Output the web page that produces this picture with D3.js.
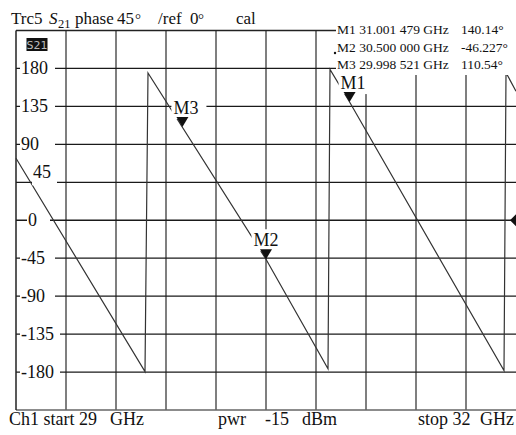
<!DOCTYPE html>
<html>
<head>
<meta charset="utf-8">
<script src="https://cdn.jsdelivr.net/npm/d3@7"></script>
<style>
  body { margin: 0; background: #fff; }
  svg { display: block; }
  text { font-family: "Liberation Serif", "Times New Roman", serif; fill: #111; white-space: pre; }
</style>
</head>
<body>
<svg id="chart" width="516" height="435"></svg>
<script>
// Sweep and grid
const freqGrid = [29.3, 29.6, 29.9, 30.2, 30.5, 30.8, 31.1, 31.4, 31.7];
const phaseTicks = [180, 135, 90, 45, 0, -45, -90, -135, -180];
const tickLabels = ["180", "135", "90", "45", "0", "-45", "-90", "-135", "-180"];

// S21 phase trace vertices (GHz, degrees), wrapping at ±180
const traceFreq  = [29.000, 29.774, 29.792, 30.500, 30.872, 30.884, 31.001479, 31.928, 31.940, 32.000];
const tracePhase = [73.5, -179.5, 174.7, -46.227, -176.0, 178.8, 140.14, -178.3, 175.0, 153.0];

// Markers
const markerNames = ["M1", "M2", "M3"];
const markerFreq = [31.001479, 30.500000, 29.998521];
const markerPhase = [140.14, -46.227, 110.54];
const markerFreqText = ["31.001 479", "30.500 000", "29.998 521"];
const markerPhaseText = ["140.14°", "-46.227°", "110.54°"];

const svg = d3.select("#chart");
const x = d3.scaleLinear().domain([29, 32]).range([16, 516]);
const y = d3.scaleLinear().domain([-225, 225]).range([410, 30.5]);

// grid
const g = svg.append("g");
g.selectAll("line.v").data(freqGrid).join("line")
  .attr("x1", d => x(d)).attr("x2", d => x(d))
  .attr("y1", y(225)).attr("y2", y(-225))
  .attr("stroke", "#555").attr("stroke-width", 1.5);
g.selectAll("line.h").data(phaseTicks).join("line")
  .attr("x1", x(29)).attr("x2", x(32))
  .attr("y1", d => y(d)).attr("y2", d => y(d))
  .attr("stroke", "#1a1a1a").attr("stroke-width", 1.3);
// frame
g.append("line").attr("x1", x(29)).attr("x2", x(32)).attr("y1", y(225)).attr("y2", y(225))
  .attr("stroke", "#222").attr("stroke-width", 1.3);
g.append("line").attr("x1", x(29)).attr("x2", x(32)).attr("y1", y(-225)).attr("y2", y(-225))
  .attr("stroke", "#666").attr("stroke-width", 1.5);
g.append("line").attr("x1", x(29)).attr("x2", x(29)).attr("y1", y(225)).attr("y2", y(-225))
  .attr("stroke", "#222").attr("stroke-width", 1.5);

// trace
const pts = traceFreq.map((f, i) => [f, tracePhase[i]]);
svg.append("path").datum(pts)
  .attr("d", d3.line().x(d => x(d[0])).y(d => y(d[1])))
  .attr("fill", "none").attr("stroke", "#333").attr("stroke-width", 1.2);

// reference level arrow on the right edge
svg.append("path")
  .attr("d", `M${x(32) - 6},${y(0)} L${x(32)},${y(0) - 6} L${x(32)},${y(0) + 6} Z`)
  .attr("fill", "#111");

// markers
const mk = svg.append("g");
markerNames.forEach((name, i) => {
  const mx = x(markerFreq[i]), my = y(markerPhase[i]);
  const shift = i === 1 ? 0 : 3.5;
  const t = mk.append("text").attr("x", mx + shift).attr("y", my - 13)
    .attr("text-anchor", "middle").attr("font-size", 18).text(name);
  const b = t.node().getBBox();
  mk.insert("rect", "text").attr("x", b.x - 2).attr("y", b.y - 1)
    .attr("width", b.width + 10).attr("height", b.height + 2).attr("fill", "#fff");
  mk.append("path")
    .attr("d", `M${mx},${my} L${mx - 6},${my - 10} L${mx + 6},${my - 10} Z`)
    .attr("fill", "#111");
});

// y tick labels with white backing
const lab = svg.append("g");
phaseTicks.forEach((p, i) => {
  const dx = p === 45 ? 12 : (p === 0 ? 7 : 0);
  const dy = p === 45 ? -4 : 6;
  const t = lab.append("text").attr("x", 21 + dx).attr("y", y(p) + dy)
    .attr("font-size", 18).text(tickLabels[i]);
  const b = t.node().getBBox();
  const right = Math.max(b.x + b.width + 6, p === 0 ? 50 : 55);
  lab.insert("rect", "text").attr("x", b.x - 1).attr("y", y(p) - 3)
    .attr("width", right - b.x + 1).attr("height", 6).attr("fill", "#fff");
});

// S21 badge
svg.append("rect").attr("x", 26.5).attr("y", 38).attr("width", 21).attr("height", 13).attr("fill", "#111");
svg.append("text").attr("x", 37).attr("y", 48.5).attr("text-anchor", "middle")
  .style("font-family", "'DejaVu Sans', sans-serif").style("fill", "#bbb")
  .attr("font-size", 11).text("S21");

// marker readout
svg.append("rect").attr("x", 336).attr("y", 22).attr("width", 180).attr("height", 53).attr("fill", "#fff");
svg.append("circle").attr("cx", 335).attr("cy", 53).attr("r", 1.2).attr("fill", "#111");
const ro = svg.append("g").attr("font-size", 13.5);
markerNames.forEach((name, i) => {
  const by = 34.3 + i * 17.3;
  ro.append("text").attr("x", 337).attr("y", by).text(`${name} ${markerFreqText[i]} GHz`);
  ro.append("text").attr("x", 461).attr("y", by).text(markerPhaseText[i]);
});

// title
const tt = svg.append("g").attr("font-size", 17);
tt.append("text").attr("x", 11).attr("y", 24).text("Trc5");
tt.append("text").attr("x", 49).attr("y", 24).style("font-style", "italic").text("S");
tt.append("text").attr("x", 58).attr("y", 28).attr("font-size", 12.5).text("21");
tt.append("text").attr("x", 75).attr("y", 24).text("phase");
tt.append("text").attr("x", 117).attr("y", 24).text("45");
tt.append("text").attr("x", 135).attr("y", 24).attr("font-size", 15).text("°");
tt.append("text").attr("x", 158).attr("y", 24).text("/ref");
tt.append("text").attr("x", 190).attr("y", 24).text("0");
tt.append("text").attr("x", 198).attr("y", 24).attr("font-size", 15).text("°");
tt.append("text").attr("x", 236).attr("y", 24).text("cal");

// footer
const ft = svg.append("g").attr("font-size", 18);
ft.append("text").attr("x", 9).attr("y", 425).text("Ch1 start 29");
ft.append("text").attr("x", 110).attr("y", 425).text("GHz");
ft.append("text").attr("x", 218).attr("y", 425).text("pwr");
ft.append("text").attr("x", 265).attr("y", 425).text("-15");
ft.append("text").attr("x", 302).attr("y", 425).text("dBm");
ft.append("text").attr("x", 418).attr("y", 425).text("stop 32");
ft.append("text").attr("x", 480).attr("y", 425).text("GHz");
</script>
</body>
</html>
